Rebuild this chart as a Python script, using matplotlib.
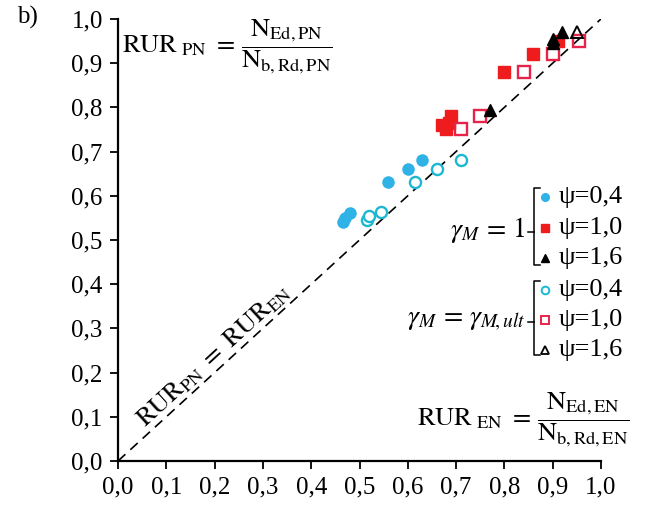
import matplotlib
matplotlib.use("Agg")
import matplotlib.pyplot as plt
from matplotlib.lines import Line2D

plt.rcParams['font.family'] = ['Liberation Serif', 'DejaVu Serif']
plt.rcParams['mathtext.fontset'] = 'stix'

# RUR_EN (x) vs RUR_PN (y)
g1_psi04_x = [0.465, 0.47, 0.48, 0.56, 0.60, 0.63]
g1_psi04_y = [0.54, 0.55, 0.56, 0.63, 0.66, 0.68]
g1_psi10_x = [0.67, 0.68, 0.685, 0.69, 0.80, 0.86, 0.91]
g1_psi10_y = [0.76, 0.75, 0.765, 0.78, 0.88, 0.92, 0.95]
g1_psi16_x = [0.77, 0.90, 0.90, 0.92]
g1_psi16_y = [0.795, 0.945, 0.955, 0.97]

gu_psi04_x = [0.515, 0.52, 0.545, 0.615, 0.66, 0.71]
gu_psi04_y = [0.545, 0.555, 0.563, 0.63, 0.66, 0.68]
gu_psi10_x = [0.71, 0.75, 0.84, 0.90, 0.955]
gu_psi10_y = [0.75, 0.78, 0.88, 0.92, 0.95]
gu_psi16_x = [0.95]
gu_psi16_y = [0.97]

ticks = [0.0, 0.1, 0.2, 0.3, 0.4, 0.5, 0.6, 0.7, 0.8, 0.9, 1.0]
tick_labels = ['0,0', '0,1', '0,2', '0,3', '0,4', '0,5', '0,6', '0,7', '0,8', '0,9', '1,0']
psi_labels = ['ψ=0,4', 'ψ=1,0', 'ψ=1,6']

c_blue = '#2fb2e6'
c_teal = '#1cb8d2'
c_red = '#ee1c1c'
c_red2 = '#e8234a'

fig = plt.figure(figsize=(6.47, 5.09), dpi=100)
ax = fig.add_axes([0.1824, 0.0943, 0.7465, 0.8685])

ax.plot([0, 1], [0, 1], color='black', lw=1.2, ls=(0, (6, 4)), zorder=1)

ms = 8
ax.plot(g1_psi04_x, g1_psi04_y, 'o', color=c_blue, ms=ms, mec=c_blue, zorder=3)
ax.plot(g1_psi10_x, g1_psi10_y, 's', color=c_red, ms=ms, mec=c_red, zorder=3)
ax.plot(gu_psi04_x, gu_psi04_y, 'o', mfc='white', mec=c_teal, mew=1.7, ms=ms, zorder=3)
ax.plot(gu_psi10_x, gu_psi10_y, 's', mfc='none', mec=c_red2, mew=1.7, ms=ms + 0.5, zorder=3)
ax.plot(g1_psi16_x, g1_psi16_y, '^', color='black', ms=ms, zorder=4)
ax.plot(gu_psi16_x, gu_psi16_y, '^', mfc='none', mec='black', mew=1.4, ms=ms, zorder=4)

ax.set_xlim(0, 1)
ax.set_ylim(0, 1)
ax.set_xticks(ticks)
ax.set_xticklabels(tick_labels)
ax.set_yticks(ticks)
ax.set_yticklabels(tick_labels)
ax.tick_params(labelsize=18, length=6, width=1.3, direction='out', pad=5)
for s in ['top', 'right']:
    ax.spines[s].set_visible(False)
for s in ['left', 'bottom']:
    ax.spines[s].set_linewidth(1.6)

# formulas
ax.text(0.008, 0.937, r'$\mathrm{RUR}_{\ \mathrm{PN}}\ =\,\dfrac{\mathrm{N}_{\mathrm{Ed,PN}}}{\mathrm{N}_{\mathrm{b,Rd,PN}}}$',
        fontsize=19, ha='left', va='center')
ax.text(1.06, 0.093, r'$\mathrm{RUR}_{\ \mathrm{EN}}\ =\,\dfrac{\mathrm{N}_{\mathrm{Ed,EN}}}{\mathrm{N}_{\mathrm{b,Rd,EN}}}$',
        fontsize=19, ha='right', va='center', clip_on=False)
ax.text(0.198, 0.238, r'$\mathrm{RUR}_{\mathrm{PN}}\ =\ \mathrm{RUR}_{\mathrm{EN}}$',
        fontsize=19, rotation=42.5, ha='center', va='center')
fig.text(0.026, 0.965, 'b)', fontsize=18, ha='left', va='center')

# legend with brackets
def bracket(x, ytop, ybot, ymid):
    kw = dict(color='black', lw=1.1, clip_on=False, transform=ax.transData)
    ax.add_line(Line2D([x + 0.012, x, x, x + 0.012], [ytop, ytop, ybot, ybot], **kw))
    ax.add_line(Line2D([x, x - 0.014], [ymid, ymid], **kw))

rows1 = [0.597, 0.527, 0.459]
rows2 = [0.387, 0.319, 0.251]
mx, tx = 0.885, 0.912

bracket(0.862, 0.618, 0.443, 0.519)
bracket(0.862, 0.407, 0.240, 0.315)

ax.text(0.843, 0.523, r'$\gamma_M\,=\,1$', fontsize=20, ha='right', va='center')
ax.text(0.843, 0.318, r'$\gamma_M\,=\,\gamma_{M\!,ult}$', fontsize=20, ha='right', va='center')

lm = dict(clip_on=False, zorder=5, ms=5.5)
ax.plot([mx], [rows1[0]], 'o', color=c_blue, **lm)
ax.plot([mx], [rows1[1]], 's', color=c_red, **lm)
ax.plot([mx], [rows1[2]], '^', color='black', **lm)
ax.plot([mx], [rows2[0]], 'o', mfc='white', mec=c_teal, mew=1.4, **lm)
ax.plot([mx], [rows2[1]], 's', mfc='white', mec=c_red2, mew=1.4, **lm)
ax.plot([mx], [rows2[2]], '^', mfc='white', mec='black', mew=1.3, **lm)
for y, lab in zip(rows1 + rows2, psi_labels + psi_labels):
    ax.text(tx, y, lab, fontsize=19, ha='left', va='center', clip_on=False)

fig.savefig('out.png', dpi=100)
